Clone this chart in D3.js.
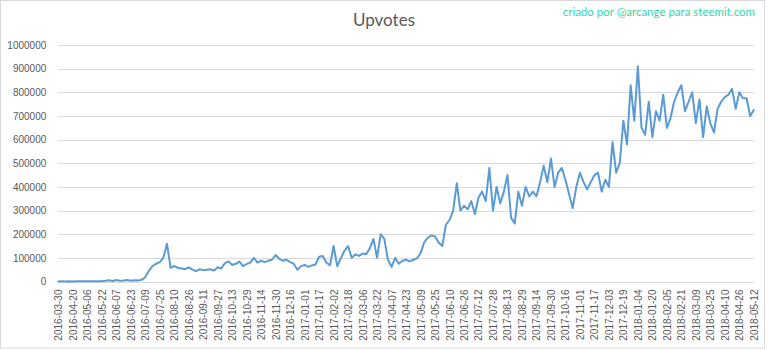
<!DOCTYPE html>
<html>
<head>
<meta charset="utf-8">
<script src="https://cdn.jsdelivr.net/npm/d3@7"></script>
<style>
  html, body { margin: 0; padding: 0; background: #ffffff; }
  svg { display: block; }
</style>
</head>
<body>
<svg id="chart" width="768" height="350"></svg>
<script>
// ---- data ----
const title = "Upvotes";
const credit = "criado por @arcange para steemit.com";
const dateLabels = [
  "2016-03-30","2016-04-20","2016-05-06","2016-05-22","2016-06-07","2016-06-23","2016-07-09",
  "2016-07-25","2016-08-10","2016-08-26","2016-09-11","2016-09-27","2016-10-13","2016-10-29",
  "2016-11-14","2016-11-30","2016-12-16","2017-01-01","2017-01-17","2017-02-02","2017-02-18",
  "2017-03-06","2017-03-22","2017-04-07","2017-04-23","2017-05-09","2017-05-25","2017-06-10",
  "2017-06-26","2017-07-12","2017-07-28","2017-08-13","2017-08-29","2017-09-14","2017-09-30",
  "2017-10-16","2017-11-01","2017-11-17","2017-12-03","2017-12-19","2018-01-04","2018-01-20",
  "2018-02-05","2018-02-21","2018-03-09","2018-03-25","2018-04-10","2018-04-26","2018-05-12"
];
const categoriesPerLabel = 16;   // one date label every 16 categories
const categoriesPerSample = 4;   // one value read every 4 categories
const yTicks = [0,100000,200000,300000,400000,500000,600000,700000,800000,900000,1000000];
// upvotes, one reading every 4 categories (193 readings)
const upvotes = [
  500,600,400,700,500,800,600,900,700,1000,800,1200,1500,
  3000,5000,2500,6000,3500,4000,6500,3000,5000,4500,7000,
  18000,45000,65000,75000,82000,100000,160000,58000,65000,58000,55000,52000,
  60000,50000,44000,52000,48000,50000,52000,46000,60000,55000,78000,85000,
  70000,75000,84000,65000,74000,80000,100000,80000,88000,82000,88000,92000,
  112000,96000,88000,92000,82000,75000,50000,65000,70000,62000,68000,72000,
  105000,108000,80000,68000,150000,65000,98000,130000,150000,100000,115000,108000,
  118000,115000,140000,180000,100000,200000,180000,92000,62000,100000,75000,88000,
  92000,85000,92000,98000,120000,165000,185000,195000,190000,165000,150000,240000,
  260000,300000,415000,300000,320000,305000,340000,285000,355000,380000,340000,480000,
  300000,400000,330000,380000,450000,270000,245000,380000,320000,400000,360000,380000,
  360000,420000,490000,420000,520000,400000,460000,480000,430000,370000,310000,400000,
  460000,420000,390000,420000,450000,460000,380000,430000,400000,590000,460000,500000,
  680000,580000,830000,680000,910000,650000,620000,760000,610000,720000,680000,790000,
  650000,690000,760000,800000,830000,720000,760000,800000,670000,770000,610000,740000,
  670000,630000,730000,760000,780000,790000,815000,730000,800000,775000,775000,700000,
  725000
];

// ---- layout ----
const svg = d3.select("#chart");
const W = 768, H = 350;
const plot = { left: 58.3, right: 753.8, top: 45, bottom: 281.5 };
const textColor = "#595959";
const gridColor = "#d9d9d9";
const lineColor = "#5b9bd5";

svg.append("rect").attr("x", 0.5).attr("y", 0.5).attr("width", 764).attr("height", 347.5)
  .attr("fill", "#fff").attr("stroke", gridColor);

const nCats = (dateLabels.length - 1) * categoriesPerLabel;
const x = d3.scaleLinear().domain([0, nCats]).range([plot.left, plot.right]);
const y = d3.scaleLinear().domain([0, 1000000]).range([plot.bottom, plot.top]);

// gridlines
svg.append("g").selectAll("line").data(yTicks).join("line")
  .attr("x1", plot.left).attr("x2", plot.right)
  .attr("y1", d => Math.round(y(d)) + 0.5).attr("y2", d => Math.round(y(d)) + 0.5)
  .attr("stroke", gridColor).attr("stroke-width", 1);

// y axis labels
const yAxis = d3.axisLeft(y).tickValues(yTicks).tickSize(0).tickPadding(0).tickFormat(d3.format("d"));
const gy = svg.append("g").attr("transform", `translate(${plot.left - 12},0)`).call(yAxis);
gy.select(".domain").remove();
gy.selectAll("text").attr("fill", textColor).style("font-family", "'Liberation Sans', Arial, sans-serif").style("font-size", "10px");

// x axis labels
const labelIdx = dateLabels.map((d, i) => i * categoriesPerLabel);
const xAxis = d3.axisBottom(x).tickValues(labelIdx).tickSize(0).tickPadding(0)
  .tickFormat((d, i) => dateLabels[i]);
const gx = svg.append("g").attr("transform", `translate(0,${plot.bottom})`).call(xAxis);
gx.select(".domain").remove();
gx.selectAll("text")
  .attr("fill", textColor)
  .style("font-family", "'Liberation Sans', Arial, sans-serif").style("font-size", "10px")
  .attr("text-anchor", "end")
  .attr("transform", "rotate(-90)")
  .attr("x", -8).attr("y", 0).attr("dy", "0.35em");

// line
const line = d3.line()
  .x((d, i) => x(i * categoriesPerSample))
  .y(d => y(d));
svg.append("path").datum(upvotes)
  .attr("fill", "none").attr("stroke", lineColor).attr("stroke-width", 2)
  .attr("stroke-linejoin", "round").attr("stroke-linecap", "round")
  .attr("d", line);

// title
svg.append("text").attr("x", 384).attr("y", 26).attr("text-anchor", "middle")
  .attr("fill", textColor).style("font-family", "Lato, 'Open Sans', sans-serif").style("font-size", "17px")
  .text(title);

// credit
svg.append("text").attr("x", 755).attr("y", 16).attr("text-anchor", "end")
  .attr("fill", "#35d6a3").style("font-family", "Lato, 'Open Sans', sans-serif").style("font-size", "11.5px")
  .text(credit);
</script>
</body>
</html>
